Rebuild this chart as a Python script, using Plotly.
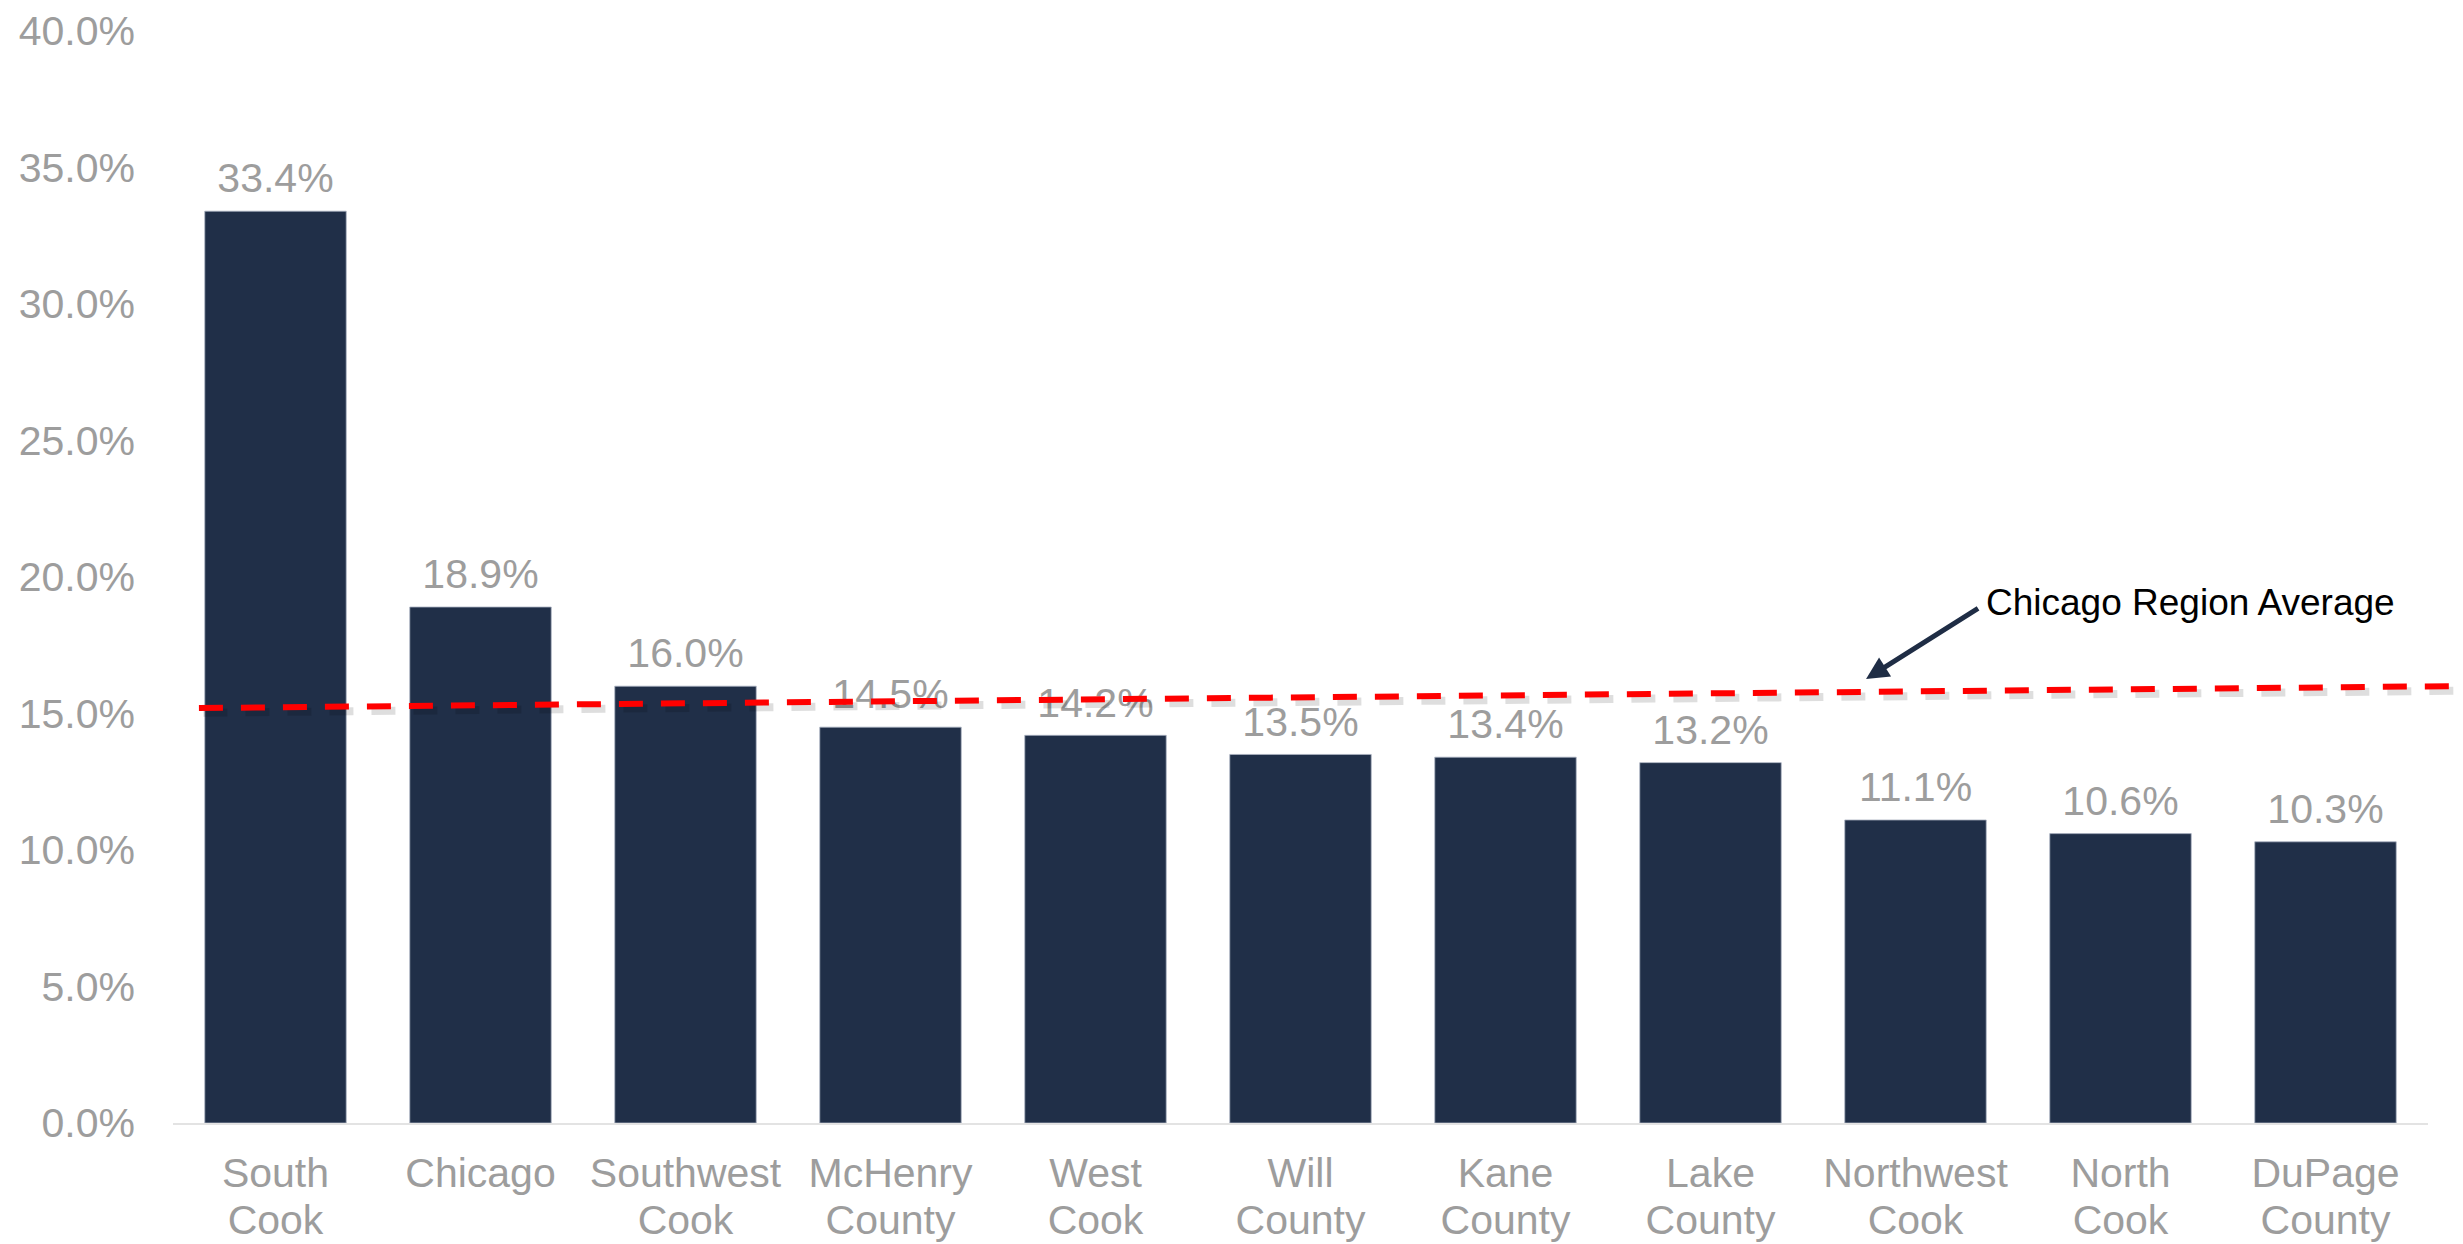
import plotly.graph_objects as go

# Share of population by area (percent)
regions = [
    "South<br>Cook", "Chicago", "Southwest<br>Cook", "McHenry<br>County",
    "West<br>Cook", "Will<br>County", "Kane<br>County", "Lake<br>County",
    "Northwest<br>Cook", "North<br>Cook", "DuPage<br>County",
]
values = [33.4, 18.9, 16.0, 14.5, 14.2, 13.5, 13.4, 13.2, 11.1, 10.6, 10.3]

# Regional average reference line (drawn slightly sloped, start -> end)
avg_start = 15.2
avg_end = 16.0
avg_label = "Chicago Region Average"

y_ticks = [0, 5, 10, 15, 20, 25, 30, 35, 40]
y_tick_text = [f"{t:.1f}%" for t in y_ticks]

FONT = "Liberation Sans, Arial, sans-serif"
GRAY = "#9d9d9d"
NAVY = "#202f48"
LABEL_PX = 41


def big_lines(label):
    # keep glyphs at LABEL_PX while the (smaller) axis font sets a tighter line pitch
    return "<br>".join(
        f"<span style='font-size:{LABEL_PX}px'>{part}</span>" for part in label.split("<br>")
    )


fig = go.Figure()

fig.add_trace(go.Bar(
    x=regions,
    y=values,
    marker=dict(color=NAVY, line=dict(color="rgba(170,178,192,0.8)", width=1)),
    hoverinfo="skip",
    showlegend=False,
))

# Value labels above the bars (invisible markers give the text its offset)
fig.add_trace(go.Scatter(
    x=regions,
    y=values,
    mode="markers+text",
    marker=dict(size=12, opacity=0),
    text=[f"{v:.1f}%" for v in values],
    textposition="top center",
    textfont=dict(family=FONT, size=41, color=GRAY),
    cliponaxis=False,
    hoverinfo="skip",
    showlegend=False,
))

# Soft shadow under the average line
fig.add_shape(
    type="line", xref="paper", yref="y",
    x0=0.0135, x1=1.0115, y0=avg_start - 0.17, y1=avg_end - 0.17,
    line=dict(color="rgba(0,0,0,0.13)", width=8, dash="24px,18px"),
    layer="above",
)
# Average line
fig.add_shape(
    type="line", xref="paper", yref="y",
    x0=0.0115, x1=1.0095, y0=avg_start, y1=avg_end,
    line=dict(color="#ff0000", width=6, dash="24px,18px"),
    layer="above",
)

# Arrow pointing at the average line
fig.add_annotation(
    xref="paper", yref="y", x=0.7508, y=16.26,
    axref="pixel", ayref="pixel", ax=114, ay=-72,
    text=" ", font=dict(size=2),
    showarrow=True, arrowhead=2, arrowsize=0.9, arrowwidth=5,
    arrowcolor="#1f2d45", standoff=0,
)
fig.add_annotation(
    xref="paper", yref="y", x=0.803, y=19.08,
    xanchor="left", yanchor="middle",
    text=avg_label, showarrow=False,
    font=dict(family=FONT, size=37, color="#000000"),
)

fig.update_layout(
    width=2463, height=1244,
    margin=dict(l=173, r=35, t=31, b=121),
    paper_bgcolor="white", plot_bgcolor="white",
    bargap=0.31,
    font=dict(family=FONT, size=41, color=GRAY),
)
fig.update_xaxes(
    type="category", range=[-0.5, len(regions) - 0.5], automargin=False,
    tickvals=regions, ticktext=[big_lines(r) for r in regions],
    showline=True, linecolor="#e3e3e3", linewidth=2,
    showgrid=False, ticks="", ticklabelstandoff=19,
    tickfont=dict(family=FONT, size=36, color=GRAY),
)
fig.update_yaxes(
    range=[0, 40], automargin=False,
    tickvals=y_ticks, ticktext=y_tick_text,
    showgrid=False, zeroline=False, showline=False,
    ticks="", ticklabelstandoff=37,
    tickfont=dict(family=FONT, size=41, color=GRAY),
)

fig.write_html("out.html")
